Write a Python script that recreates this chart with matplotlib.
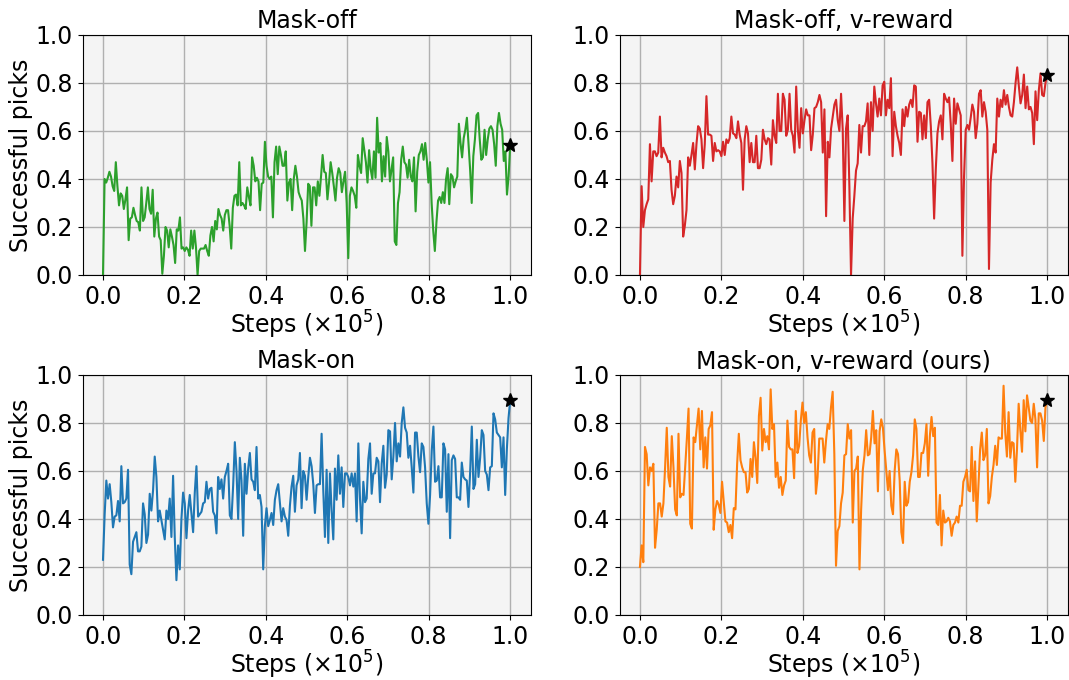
import numpy as np
import matplotlib
matplotlib.use("Agg")
import matplotlib.pyplot as plt

# success rate per evaluation
mask_off = [
    0.00, 0.40, 0.385, 0.405, 0.43, 0.41, 0.37, 0.35, 0.47, 0.37, 0.29, 0.34, 0.33, 0.275, 0.315, 0.365,
    0.145, 0.235, 0.24, 0.28, 0.25, 0.225, 0.22, 0.185, 0.365, 0.225, 0.24, 0.30, 0.365, 0.275, 0.255, 0.355,
    0.16, 0.235, 0.26, 0.16, 0.145, 0.005, 0.08, 0.20, 0.185, 0.115, 0.19, 0.16, 0.125, 0.05, 0.19, 0.185,
    0.24, 0.11, 0.115, 0.10, 0.115, 0.105, 0.08, 0.185, 0.11, 0.185, 0.115, 0.00, 0.10, 0.11, 0.11, 0.11,
    0.125, 0.10, 0.08, 0.165, 0.20, 0.14, 0.225, 0.19, 0.275, 0.25, 0.235, 0.185, 0.25, 0.27, 0.27, 0.205,
    0.11, 0.28, 0.33, 0.335, 0.29, 0.47, 0.29,
    0.30, 0.29, 0.275, 0.365, 0.325, 0.29, 0.49, 0.455, 0.39, 0.405, 0.39, 0.27, 0.38, 0.385, 0.555, 0.455,
    0.41, 0.40, 0.41, 0.24, 0.47, 0.535, 0.42, 0.535, 0.50, 0.455, 0.455, 0.515, 0.31, 0.385, 0.40, 0.27,
    0.40, 0.455, 0.41, 0.345, 0.325, 0.31, 0.235, 0.10, 0.22, 0.38, 0.37, 0.205, 0.365, 0.365, 0.29, 0.39,
    0.33, 0.41, 0.50, 0.43, 0.425, 0.315, 0.385, 0.47, 0.425, 0.37, 0.31, 0.405, 0.445, 0.425, 0.345, 0.39,
    0.43, 0.30, 0.07, 0.33, 0.365, 0.35, 0.33, 0.28, 0.50, 0.455, 0.425, 0.57, 0.52, 0.47, 0.385, 0.52,
    0.44, 0.40, 0.515, 0.405, 0.655, 0.51, 0.55,
    0.39, 0.495, 0.41, 0.575, 0.515, 0.39, 0.44, 0.49, 0.14, 0.125, 0.30, 0.345, 0.48, 0.535, 0.47, 0.46,
    0.405, 0.48, 0.41, 0.39, 0.49, 0.265, 0.43, 0.50, 0.515, 0.545, 0.48, 0.55, 0.48, 0.385, 0.47, 0.30,
    0.185, 0.10, 0.22, 0.31, 0.325, 0.30, 0.345, 0.30, 0.40, 0.445, 0.295, 0.42, 0.41, 0.365, 0.39, 0.41,
    0.63, 0.55, 0.49, 0.57, 0.605, 0.655, 0.55, 0.44, 0.30, 0.495, 0.565, 0.665, 0.675, 0.565, 0.48, 0.49,
    0.605, 0.50, 0.565, 0.61, 0.62, 0.605, 0.545, 0.455, 0.62, 0.675, 0.63, 0.605, 0.475, 0.515, 0.335, 0.41,
    0.54,
]

mask_off_vreward = [
    0.00, 0.37, 0.20, 0.27, 0.295, 0.315, 0.545, 0.39, 0.515, 0.515, 0.495, 0.51, 0.66, 0.49, 0.53, 0.51,
    0.495, 0.47, 0.475, 0.355, 0.295, 0.33, 0.41, 0.365, 0.475, 0.425, 0.16, 0.205, 0.27, 0.49, 0.455, 0.50,
    0.55, 0.44, 0.545, 0.62, 0.61, 0.565, 0.445, 0.545, 0.745, 0.585, 0.585, 0.58, 0.475, 0.55, 0.515, 0.52,
    0.515, 0.495, 0.555, 0.50, 0.565, 0.55, 0.57, 0.66, 0.59, 0.585, 0.57, 0.64, 0.585, 0.55, 0.355, 0.565,
    0.62, 0.59, 0.47, 0.55, 0.47, 0.47, 0.58, 0.445, 0.445, 0.48, 0.605, 0.565, 0.545, 0.57, 0.565, 0.46,
    0.645, 0.58, 0.55,
    0.755, 0.60, 0.60, 0.755, 0.73, 0.58, 0.605, 0.755, 0.605, 0.58, 0.51, 0.785, 0.605, 0.53, 0.695, 0.59,
    0.645, 0.69, 0.665, 0.665, 0.52, 0.585, 0.695, 0.70, 0.72, 0.75, 0.72, 0.51, 0.69, 0.245, 0.555, 0.49,
    0.61, 0.66, 0.71, 0.73, 0.645, 0.60, 0.755, 0.605, 0.225, 0.61, 0.665, 0.37, 0.00, 0.235, 0.33, 0.435,
    0.465, 0.625, 0.51, 0.62, 0.62, 0.64, 0.715, 0.50, 0.72, 0.60, 0.785, 0.715, 0.66, 0.735, 0.665, 0.79,
    0.805, 0.665, 0.73, 0.695, 0.82, 0.495, 0.68, 0.62, 0.58, 0.55, 0.50, 0.69, 0.62, 0.70, 0.66, 0.71,
    0.73, 0.70, 0.79, 0.785,
    0.555, 0.68, 0.675, 0.565, 0.665, 0.57, 0.72, 0.73, 0.62, 0.465, 0.235, 0.44, 0.59, 0.64, 0.665, 0.565,
    0.755, 0.735, 0.72, 0.74, 0.63, 0.475, 0.735, 0.63, 0.715, 0.69, 0.665, 0.08, 0.41, 0.605, 0.625, 0.605,
    0.655, 0.71, 0.68, 0.57, 0.63, 0.755, 0.77, 0.66, 0.72, 0.68, 0.605, 0.025, 0.385, 0.48, 0.545, 0.51,
    0.735, 0.66, 0.73, 0.70, 0.77, 0.71, 0.75, 0.70, 0.665, 0.66, 0.72, 0.80, 0.865, 0.785, 0.715, 0.75,
    0.835, 0.695, 0.785, 0.69, 0.70, 0.675, 0.545, 0.765, 0.645, 0.77, 0.84, 0.75, 0.745, 0.80, 0.835,
]

mask_on = [
    0.23, 0.42, 0.56, 0.485, 0.545, 0.47, 0.365, 0.41, 0.415, 0.475, 0.39, 0.62, 0.465, 0.47, 0.485, 0.605,
    0.21, 0.17, 0.305, 0.325, 0.345, 0.265, 0.265, 0.285, 0.465, 0.42, 0.30, 0.335, 0.505, 0.435, 0.52, 0.66,
    0.575, 0.39, 0.435, 0.395, 0.355, 0.315, 0.435, 0.40, 0.485, 0.325, 0.58, 0.325, 0.145, 0.29, 0.19, 0.40,
    0.51, 0.465, 0.32, 0.435, 0.50, 0.42, 0.345, 0.51, 0.62, 0.41, 0.42, 0.43, 0.465, 0.47, 0.555, 0.485,
    0.525, 0.53, 0.43, 0.415, 0.34, 0.575, 0.525, 0.565, 0.485, 0.575, 0.60, 0.63, 0.415, 0.40, 0.54, 0.72,
    0.60, 0.40, 0.655,
    0.56, 0.33, 0.63, 0.505, 0.61, 0.675, 0.565, 0.555, 0.52, 0.70, 0.485, 0.50, 0.45, 0.19, 0.37, 0.445,
    0.37, 0.395, 0.425, 0.375, 0.48, 0.52, 0.545, 0.465, 0.39, 0.445, 0.41, 0.395, 0.33, 0.455, 0.535, 0.58,
    0.43, 0.54, 0.565, 0.675, 0.445, 0.60, 0.58, 0.48, 0.575, 0.655, 0.62, 0.545, 0.425, 0.54, 0.545, 0.545,
    0.755, 0.52, 0.325, 0.605, 0.30, 0.59, 0.435, 0.315, 0.61, 0.48, 0.665, 0.505, 0.615, 0.45, 0.59, 0.59,
    0.575, 0.54, 0.59, 0.535, 0.59, 0.39, 0.715, 0.485, 0.34, 0.555, 0.47, 0.485, 0.65, 0.715, 0.505, 0.59,
    0.59, 0.655,
    0.64, 0.47, 0.63, 0.705, 0.53, 0.585, 0.77, 0.765, 0.565, 0.66, 0.80, 0.64, 0.715, 0.66, 0.80, 0.865,
    0.78, 0.76, 0.655, 0.705, 0.615, 0.51, 0.76, 0.76, 0.66, 0.595, 0.715, 0.70, 0.615, 0.465, 0.38, 0.50,
    0.685, 0.785, 0.555, 0.56, 0.62, 0.49, 0.49, 0.715, 0.69, 0.43, 0.67, 0.32, 0.645, 0.665, 0.65, 0.49,
    0.49, 0.48, 0.635, 0.575, 0.565, 0.56, 0.45, 0.595, 0.785, 0.525, 0.545, 0.73, 0.575, 0.655, 0.77, 0.75,
    0.60, 0.585, 0.52, 0.615, 0.62, 0.84, 0.815, 0.76, 0.75, 0.74, 0.615, 0.74, 0.50, 0.69, 0.82, 0.895,
]

mask_on_vreward = [
    0.20, 0.29, 0.22, 0.70, 0.67, 0.54, 0.615, 0.60, 0.63, 0.28, 0.355, 0.465, 0.465, 0.41, 0.465, 0.615,
    0.78, 0.575, 0.535, 0.745, 0.615, 0.44, 0.415, 0.755, 0.49, 0.505, 0.50, 0.615, 0.735, 0.86, 0.38, 0.36,
    0.74, 0.72, 0.79, 0.86, 0.69, 0.85, 0.615, 0.74, 0.61, 0.775, 0.79, 0.845, 0.355, 0.44, 0.475, 0.46,
    0.425, 0.555, 0.475, 0.39, 0.385, 0.345, 0.375, 0.32, 0.445, 0.44, 0.63, 0.755, 0.645, 0.615, 0.595, 0.595,
    0.51, 0.525, 0.65, 0.575, 0.72, 0.655, 0.55, 0.83, 0.905, 0.685, 0.775, 0.72, 0.745, 0.69, 0.94, 0.775,
    0.795, 0.575,
    0.635, 0.53, 0.575, 0.50, 0.54, 0.56, 0.81, 0.70, 0.69, 0.69, 0.57, 0.85, 0.675, 0.705, 0.81, 0.885,
    0.80, 0.845, 0.74, 0.665, 0.635, 0.76, 0.775, 0.505, 0.575, 0.735, 0.735, 0.735, 0.635, 0.725, 0.795, 0.775,
    0.865, 0.93, 0.67, 0.205, 0.35, 0.37, 0.465, 0.51, 0.665, 0.67, 0.795, 0.735, 0.77, 0.385, 0.60, 0.61,
    0.66, 0.19, 0.44, 0.605, 0.665, 0.77, 0.665, 0.67, 0.74, 0.85, 0.715, 0.77, 0.515, 0.765, 0.815, 0.78,
    0.685, 0.60, 0.52, 0.60, 0.455, 0.42, 0.60, 0.69, 0.67, 0.56, 0.345, 0.30, 0.555, 0.455, 0.47, 0.555,
    0.595, 0.665, 0.815, 0.775,
    0.575, 0.575, 0.675, 0.675, 0.715, 0.795, 0.58, 0.745, 0.825, 0.745, 0.78, 0.385, 0.375, 0.50, 0.29, 0.435,
    0.385, 0.39, 0.405, 0.39, 0.33, 0.375, 0.385, 0.41, 0.385, 0.455, 0.455, 0.555, 0.575, 0.605, 0.52, 0.515,
    0.70, 0.475, 0.64, 0.39, 0.54, 0.69, 0.76, 0.645, 0.665, 0.775, 0.465, 0.495, 0.575, 0.625, 0.705, 0.625,
    0.74, 0.735, 0.735, 0.955, 0.76, 0.66, 0.845, 0.655, 0.72, 0.715, 0.555, 0.69, 0.88, 0.77, 0.68, 0.895,
    0.765, 0.915, 0.865, 0.81, 0.80, 0.88, 0.815, 0.615, 0.84, 0.84, 0.81, 0.725, 0.865, 0.895,
]

titles = ["Mask-off", "Mask-off, v-reward", "Mask-on", "Mask-on, v-reward (ours)"]
series = [mask_off, mask_off_vreward, mask_on, mask_on_vreward]
colors = ["tab:green", "tab:red", "tab:blue", "tab:orange"]

fig = plt.figure(figsize=(10.69, 6.8), dpi=100)
fs = 17
positions = [
    [0.0773, 0.5956, 0.419, 0.353],
    [0.5796, 0.5956, 0.419, 0.353],
    [0.0773, 0.0956, 0.419, 0.353],
    [0.5796, 0.0956, 0.419, 0.353],
]

for i, (pos, y, c, t) in enumerate(zip(positions, series, colors, titles)):
    ax = fig.add_axes(pos)
    x = np.linspace(0, 1, len(y))
    ax.set_facecolor("#f4f4f4")
    ax.plot(x, y, color=c, linewidth=1.5)
    ax.plot(x[-1], y[-1], marker="*", color="black", markersize=10, linestyle="none")
    ax.set_ylim(0, 1)
    ax.set_xlim(-0.05, 1.05)
    ax.set_xticks(np.arange(0, 1.01, 0.2))
    ax.set_yticks(np.arange(0, 1.01, 0.2))
    ax.grid(True, color="#b0b0b0", linewidth=1.0)
    ax.set_axisbelow(True)
    ax.tick_params(labelsize=fs)
    ax.set_title(t, fontsize=fs, pad=5)
    ax.set_xlabel("Steps ($\\times10^5$)", fontsize=fs, labelpad=0)
    if i % 2 == 0:
        ax.set_ylabel("Successful picks", fontsize=fs, labelpad=2)

plt.savefig("out.png", dpi=100)
